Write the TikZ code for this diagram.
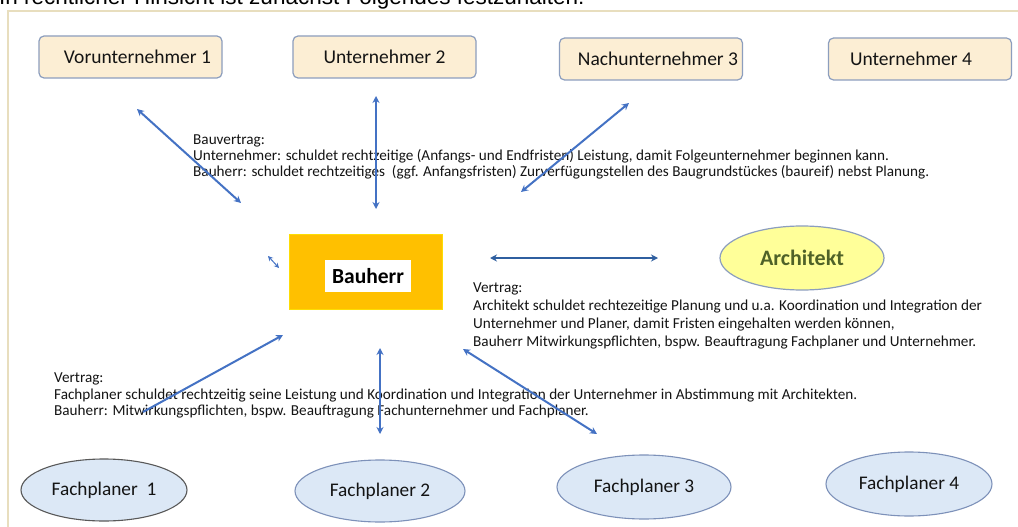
\documentclass[tikz,border=0pt]{standalone}
\usepackage{fontspec}
\setmainfont{Carlito}
\newfontfamily\arialfont{Liberation Sans}
\usetikzlibrary{arrows.meta,shapes.geometric}
\definecolor{frameclr}{RGB}{232,222,190}
\definecolor{boxfill}{RGB}{252,238,212}
\definecolor{boxdraw}{RGB}{140,158,190}
\definecolor{arrowblue}{RGB}{68,114,196}
\definecolor{darkarrow}{RGB}{47,95,160}
\definecolor{bauorange}{RGB}{255,192,0}
\definecolor{archfill}{RGB}{255,255,153}
\definecolor{archtext}{RGB}{79,98,40}
\definecolor{fpfill}{RGB}{220,232,246}
\definecolor{fpdraw}{RGB}{125,145,185}
\definecolor{txt}{RGB}{20,20,20}
\tikzset{
  firm/.style={draw=boxdraw, line width=1.2pt, fill=boxfill, rounded corners=5pt,
    minimum width=183pt, minimum height=42pt, font=\fontsize{19.5}{22}\selectfont, text=txt},
  planer/.style={ellipse, draw=fpdraw, line width=1.1pt, fill=fpfill, inner sep=0pt,
    font=\fontsize{19.3}{22}\selectfont, text=txt},
  conn/.style={draw=arrowblue, line width=2pt, {Stealth[length=7pt,width=7pt]}-{Stealth[length=7pt,width=7pt]}},
  conntop/.style={draw=arrowblue, line width=2pt, {Stealth[length=7pt,width=7pt]}-},
  body/.style={anchor=north west, align=left, inner sep=0pt, text=txt,
    font=\fontsize{15.2}{16}\selectfont},
}
\begin{document}
\begin{tikzpicture}[x=1pt,y=-1pt]
\useasboundingbox (0,0) rectangle (1018,527);
\fill[white] (0,0) rectangle (1018,527);
% cropped heading
\node[anchor=base west, inner sep=0pt, font=\arialfont\fontsize{22.5}{24}\selectfont, text=black] (head) at (-1,5) {In rechtlicher Hinsicht ist zunächst Folgendes festzuhalten:};
% frame
\draw[frameclr, line width=1.5pt] (1020,11) -- (8,11) -- (8,530);
% contractor boxes
\node[firm] (u1) at (130.5,57) {\hspace{14pt}Vorunternehmer 1};
\node[firm] (u2) at (384.5,57) {Unternehmer 2};
\node[firm] (u3) at (651,59) {\hspace{14pt}Nachunternehmer 3};
\node[firm] (u4) at (920,59) {\hspace{-18pt}Unternehmer 4};
% Bauherr
\node[draw=yellow!80!orange, line width=0.6pt, fill=bauorange, minimum width=153pt, minimum height=75pt] (bh) at (365.5,271.5) {};
\node[fill=white, minimum width=86pt, minimum height=32pt, inner sep=0pt, font=\bfseries\fontsize{21.5}{23}\selectfont, text=black] (bhl) at (368,276) {Bauherr};
% Architekt
\node[ellipse, draw=boxdraw, line width=1.2pt, fill=archfill, minimum width=164pt, minimum height=64pt, inner sep=0pt, font=\bfseries\fontsize{22}{24}\selectfont, text=archtext] (arch) at (802,258) {Architekt};
% Fachplaner
\node[planer, minimum width=166pt, minimum height=62pt, draw=gray!70!black] (f1) at (104,490) {Fachplaner\ \ 1};
\node[planer, minimum width=170pt, minimum height=62pt] (f2) at (380,491) {Fachplaner 2};
\node[planer, minimum width=174pt, minimum height=64pt] (f3) at (644,487) {Fachplaner 3};
\node[planer, minimum width=166pt, minimum height=64pt] (f4) at (909,484) {Fachplaner 4};
% text blocks
\node[body] (t1) at (193,135) {Bauvertrag:\\
Unternehmer: schuldet rechtzeitige (Anfangs- und Endfristen) Leistung, damit Folgeunternehmer beginnen kann.\\
Bauherr: schuldet rechtzeitiges\ \ (ggf. Anfangsfristen) Zurverfügungstellen des Baugrundstückes (baureif) nebst Planung.};
\node[body, font=\fontsize{15.2}{18}\selectfont] (t2) at (473,283) {Vertrag:\\
Architekt schuldet rechtezeitige Planung und u.a. Koordination und Integration der\\
Unternehmer und Planer, damit Fristen eingehalten werden können,\\
Bauherr Mitwirkungspflichten, bspw. Beauftragung Fachplaner und Unternehmer.};
\node[body, font=\fontsize{15.2}{16.5}\selectfont] (t3) at (54,373) {Vertrag:\\
Fachplaner schuldet rechtzeitig seine Leistung und Koordination und Integration der Unternehmer in Abstimmung mit Architekten.\\
Bauherr: Mitwirkungspflichten, bspw. Beauftragung Fachunternehmer und Fachplaner.};
% connector end points
\coordinate (a1s) at (137,109);
\coordinate (a1e) at (241,203);
\coordinate (a2s) at (376,96);
\coordinate (a2e) at (376,209);
\coordinate (a3s) at (629,103);
\coordinate (a3e) at (521,192);
\coordinate (a4s) at (490,258);
\coordinate (a4e) at (658,258);
\coordinate (a5s) at (283,335);
\coordinate (a5e) at (143,412);
\coordinate (a6s) at (380,348);
\coordinate (a6e) at (380,434);
\coordinate (a7s) at (463,349);
\coordinate (a7e) at (597,434);
\coordinate (m1) at (268,256);
\coordinate (m2) at (279,268);
% connectors
\draw[conn] (a1s) -- (a1e);
\draw[conn] (a2s) -- (a2e);
\draw[conn] (a3s) -- (a3e);
\draw[conn, draw=darkarrow, line width=2.4pt] (a4s) -- (a4e);
\draw[conntop] (a5s) -- (a5e);
\draw[conn] (a6s) -- (a6e);
\draw[conn] (a7s) -- (a7e);
\draw[draw=arrowblue, line width=1pt, {Stealth[length=5pt,width=5pt]}-{Stealth[length=5pt,width=5pt]}] (m1) -- (m2);
\end{tikzpicture}
\end{document}
